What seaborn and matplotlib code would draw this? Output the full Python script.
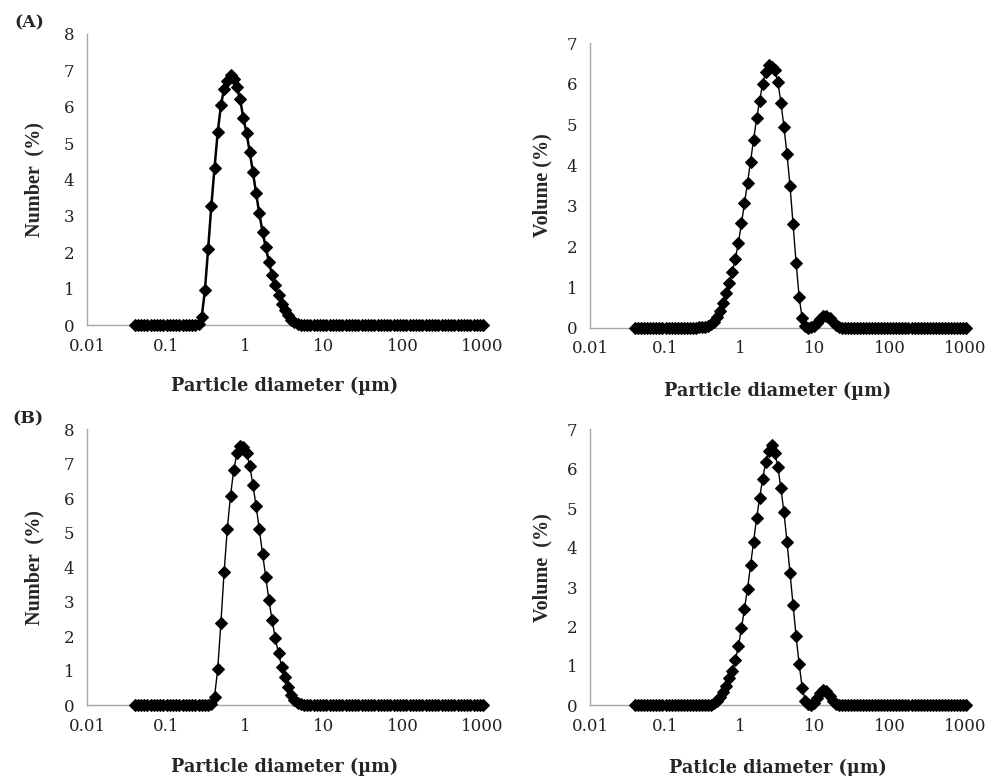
import matplotlib
matplotlib.use("Agg")
import matplotlib.pyplot as plt
import seaborn as sns

#%% DATA
# particle size channels (µm)
sizes = [
    0.04, 0.0439, 0.0482, 0.0529, 0.0581, 0.0638, 0.0700, 0.0768, 0.0843, 0.0926,
    0.1016, 0.1115, 0.1224, 0.1344, 0.1475, 0.1619, 0.1777, 0.1951, 0.2142, 0.2351,
    0.2581, 0.2833, 0.3110, 0.3414, 0.3747, 0.4113, 0.4515, 0.4956, 0.5441, 0.5972,
    0.6556, 0.7197, 0.7900, 0.8672, 0.9519, 1.045, 1.147, 1.259, 1.382, 1.517,
    1.666, 1.828, 2.007, 2.203, 2.418, 2.655, 2.914, 3.199, 3.511, 3.854,
    4.231, 4.645, 5.098, 5.597, 6.144, 6.744, 7.403, 8.127, 8.921, 9.793,
    10.75, 11.80, 12.95, 14.22, 15.61, 17.13, 18.81, 20.65, 22.66, 24.88,
    27.31, 29.98, 32.91, 36.12, 39.65, 43.53, 47.78, 52.45, 57.58, 63.20,
    69.38, 76.16, 83.60, 91.77, 100.7, 110.6, 121.4, 133.2, 146.3, 160.6,
    176.3, 193.5, 212.4, 233.2, 255.9, 281.0, 308.4, 338.6, 371.6, 408.0,
    447.8, 491.6, 539.6, 592.4, 650.3, 713.8, 783.6, 860.1, 944.2, 1036.0,
]

number_a = [
    0, 0, 0, 0, 0, 0, 0, 0, 0, 0,
    0, 0, 0, 0, 0, 0, 0, 0, 0, 0,
    0.02, 0.22, 0.96, 2.09, 3.27, 4.32, 5.30, 6.04, 6.50, 6.72,
    6.87, 6.75, 6.55, 6.20, 5.70, 5.28, 4.76, 4.21, 3.62, 3.07,
    2.56, 2.15, 1.74, 1.37, 1.10, 0.82, 0.59, 0.42, 0.27, 0.15,
    0.07, 0.03, 0.01, 0, 0, 0, 0, 0, 0, 0,
    0, 0, 0, 0, 0, 0, 0, 0, 0, 0,
    0, 0, 0, 0, 0, 0, 0, 0, 0, 0,
    0, 0, 0, 0, 0, 0, 0, 0, 0, 0,
    0, 0, 0, 0, 0, 0, 0, 0, 0, 0,
    0, 0, 0, 0, 0, 0, 0, 0, 0, 0,
]

volume_a = [
    0, 0, 0, 0, 0, 0, 0, 0, 0, 0,
    0, 0, 0, 0, 0, 0, 0, 0, 0, 0,
    0, 0.01, 0.01, 0.02, 0.04, 0.08, 0.15, 0.27, 0.42, 0.62,
    0.85, 1.09, 1.38, 1.70, 2.09, 2.57, 3.06, 3.57, 4.09, 4.63,
    5.15, 5.59, 6.01, 6.30, 6.46, 6.42, 6.34, 6.05, 5.54, 4.95,
    4.27, 3.49, 2.55, 1.60, 0.76, 0.23, 0.03, 0, 0.01, 0.05,
    0.12, 0.21, 0.28, 0.30, 0.24, 0.14, 0.06, 0.02, 0, 0,
    0, 0, 0, 0, 0, 0, 0, 0, 0, 0,
    0, 0, 0, 0, 0, 0, 0, 0, 0, 0,
    0, 0, 0, 0, 0, 0, 0, 0, 0, 0,
    0, 0, 0, 0, 0, 0, 0, 0, 0, 0,
]

number_b = [
    0, 0, 0, 0, 0, 0, 0, 0, 0, 0,
    0, 0, 0, 0, 0, 0, 0, 0, 0, 0,
    0, 0, 0, 0.01, 0.05, 0.25, 1.05, 2.40, 3.87, 5.12,
    6.08, 6.82, 7.30, 7.52, 7.50, 7.32, 6.95, 6.39, 5.78, 5.10,
    4.40, 3.73, 3.05, 2.47, 1.94, 1.51, 1.12, 0.83, 0.54, 0.30,
    0.15, 0.07, 0.03, 0.01, 0, 0, 0, 0, 0, 0,
    0, 0, 0, 0, 0, 0, 0, 0, 0, 0,
    0, 0, 0, 0, 0, 0, 0, 0, 0, 0,
    0, 0, 0, 0, 0, 0, 0, 0, 0, 0,
    0, 0, 0, 0, 0, 0, 0, 0, 0, 0,
    0, 0, 0, 0, 0, 0, 0, 0, 0, 0,
]

volume_b = [
    0, 0, 0, 0, 0, 0, 0, 0, 0, 0,
    0, 0, 0, 0, 0, 0, 0, 0, 0, 0,
    0, 0, 0, 0.01, 0.01, 0.02, 0.05, 0.10, 0.20, 0.35,
    0.50, 0.68, 0.88, 1.15, 1.50, 1.95, 2.45, 2.95, 3.55, 4.15,
    4.75, 5.27, 5.75, 6.17, 6.45, 6.60, 6.40, 6.05, 5.50, 4.90,
    4.15, 3.35, 2.55, 1.75, 1.05, 0.45, 0.12, 0.03, 0, 0.05,
    0.18, 0.32, 0.40, 0.36, 0.24, 0.12, 0.04, 0.01, 0, 0,
    0, 0, 0, 0, 0, 0, 0, 0, 0, 0,
    0, 0, 0, 0, 0, 0, 0, 0, 0, 0,
    0, 0, 0, 0, 0, 0, 0, 0, 0, 0,
    0, 0, 0, 0, 0, 0, 0, 0, 0, 0,
]

x_ticks = [0.01, 0.1, 1, 10, 100, 1000]
x_tick_labels = ["0.01", "0.1", "1", "10", "100", "1000"]

#%% STYLE
sns.set_style("white")
plt.rcParams["font.family"] = ["DejaVu Serif"]

AXIS_GREY = "#a6a6a6"


def draw_panel(ax, values, ylabel, xlabel, ymax, lw, ylab_x, xlab_y):
    ax.set_xscale("log")
    sns.lineplot(
        x=sizes,
        y=values,
        ax=ax,
        color="black",
        marker="D",
        markersize=5.8,
        markeredgecolor="black",
        linewidth=lw,
        estimator=None,
        sort=False,
        clip_on=False,
        zorder=3,
    )
    ax.set_xlim(0.01, 1000)
    ax.set_ylim(0, ymax)
    ax.set_xticks(x_ticks)
    ax.set_xticklabels(x_tick_labels)
    ax.xaxis.set_minor_locator(matplotlib.ticker.NullLocator())
    ax.set_yticks(range(0, ymax + 1))

    for side in ["top", "right"]:
        ax.spines[side].set_visible(False)
    for side in ["left", "bottom"]:
        ax.spines[side].set_color(AXIS_GREY)
        ax.spines[side].set_linewidth(1.0)

    ax.tick_params(
        direction="out", length=5, width=1, color=AXIS_GREY,
        labelsize=12, labelcolor="#222222", pad=4,
    )
    ax.set_ylabel(ylabel, fontfamily="Liberation Serif", fontweight="bold", fontsize=14.5)
    ax.set_xlabel(xlabel, fontweight="bold", fontsize=12.7)
    ax.yaxis.set_label_coords(ylab_x, 0.5)
    ax.xaxis.set_label_coords(0.5, xlab_y)
    ax.grid(False)


#%% FIGURE
W, H = 999, 776
fig = plt.figure(figsize=(W / 100, H / 100), dpi=100)


def add_axes(left, top, right, bottom):
    return fig.add_axes([left / W, 1 - bottom / H, (right - left) / W, (bottom - top) / H])


ax_na = add_axes(87, 34, 482, 325)
ax_va = add_axes(590, 43.3, 965, 327.7)
ax_nb = add_axes(87, 429.3, 482, 705.3)
ax_vb = add_axes(590, 429.3, 965, 705.3)

draw_panel(ax_na, number_a, "Number  (%)", "Particle diameter (µm)", 8, 1.8, -0.107, -0.179)
draw_panel(ax_va, volume_a, "Volume (%)", "Particle diameter (µm)", 7, 1.0, -0.101, -0.19)
draw_panel(ax_nb, number_b, "Number  (%)", "Particle diameter (µm)", 8, 1.0, -0.107, -0.19)
draw_panel(ax_vb, volume_b, "Volume  (%)", "Paticle diameter (µm)", 7, 1.0, -0.101, -0.193)

fig.text(29 / W, 1 - 23 / H, "(A)", fontweight="bold", fontsize=12.5, ha="center", va="center")
fig.text(28 / W, 1 - 419 / H, "(B)", fontweight="bold", fontsize=12.5, ha="center", va="center")

fig.savefig("out.png", dpi=100)
